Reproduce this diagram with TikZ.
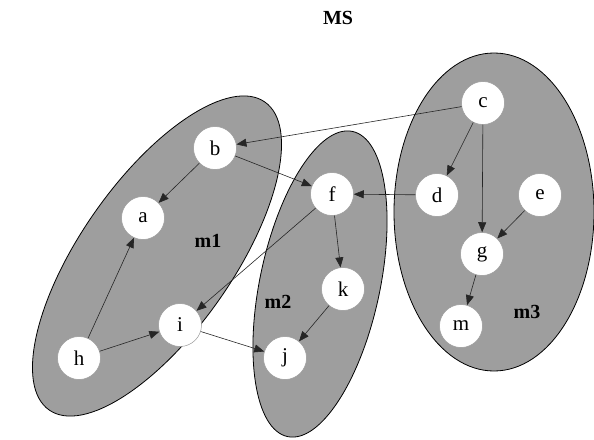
\documentclass[tikz,border=0pt]{standalone}
\usepackage{fontspec}
\setmainfont{Liberation Serif}
\usetikzlibrary{arrows.meta}
\begin{document}
\begin{tikzpicture}[x=1pt,y=-1pt,
  vtx/.style={circle,fill=white,draw=black!40,line width=0.5pt,minimum size=43pt,inner sep=0pt,font=\fontsize{21}{25}\selectfont},
  grp/.style={fill=black!38,draw=black,line width=0.8pt},
  lbl/.style={font=\fontsize{20}{24}\selectfont\bfseries},
  edge/.style={draw=black!85,line width=0.6pt,-{Triangle[length=10pt,width=8pt]}}]
\useasboundingbox (0,0) rectangle (594,439);
% groups
\draw[grp,rotate around={55:(157,256)}] (157,256) ellipse [x radius=188, y radius=76];
\draw[grp,rotate around={78:(320,284)}] (320,284) ellipse [x radius=156, y radius=60];
\draw[grp] (494,212) ellipse [x radius=100, y radius=159];
% labels
\node[lbl] (ms) at (338,18) {MS};
\node[lbl] (m1) at (208,241) {m1};
\node[lbl] (m2) at (278,302) {m2};
\node[lbl] (m3) at (527,312) {m3};
% vertices
\node[vtx] (a) at (143,218) {a};
\node[vtx] (b) at (215,148) {b};
\node[vtx] (c) at (483,103) {c};
\node[vtx] (d) at (437,195) {d};
\node[vtx] (e) at (540,195) {e};
\node[vtx] (f) at (332,194) {f};
\node[vtx] (g) at (482,254) {g};
\node[vtx] (h) at (79,358) {h};
\node[vtx] (i) at (180,325) {i};
\node[vtx] (j) at (285,358) {j};
\node[vtx] (k) at (343,289) {k};
\node[vtx] (m) at (461,326) {m};
% edges
\draw[edge] (c) -- (b);
\draw[edge] (b) -- (a);
\draw[edge] (b) -- (f);
\draw[edge] (d) -- (f);
\draw[edge] (c) -- (d);
\draw[edge] (c) -- (g);
\draw[edge] (e) -- (g);
\draw[edge] (g) -- (m);
\draw[edge] (f) -- (k);
\draw[edge] (f) -- (i);
\draw[edge] (k) -- (j);
\draw[edge] (i) -- (j);
\draw[edge] (h) -- (a);
\draw[edge] (h) -- (i);
\end{tikzpicture}
\end{document}
